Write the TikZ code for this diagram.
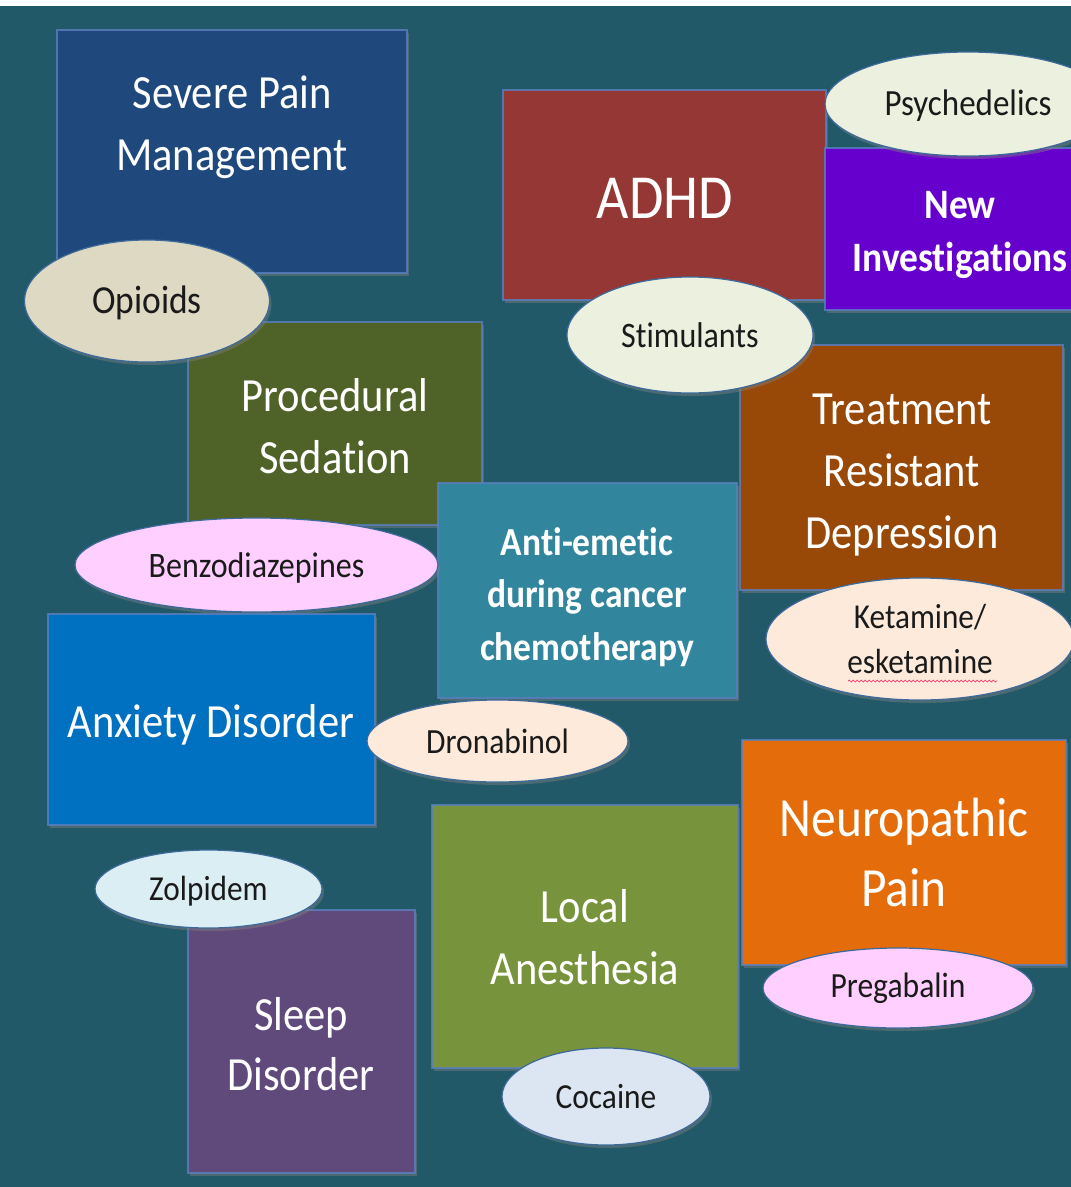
\documentclass[tikz,border=0pt]{standalone}
\usepackage{fontspec}
\setmainfont{Carlito}[Ligatures=NoCommon]
\usetikzlibrary{shapes.geometric,shadows,decorations.pathmorphing}
\definecolor{bgteal}{HTML}{215968}
\definecolor{cSevere}{HTML}{1F497D}
\definecolor{cADHD}{HTML}{953735}
\definecolor{cNew}{HTML}{6600CC}
\definecolor{cProc}{HTML}{4F6228}
\definecolor{cTreat}{HTML}{984807}
\definecolor{cAnti}{HTML}{31859C}
\definecolor{cAnx}{HTML}{0070C0}
\definecolor{cNeuro}{HTML}{E46C0A}
\definecolor{cLocal}{HTML}{77933C}
\definecolor{cSleep}{HTML}{604A7B}
\definecolor{eOpi}{HTML}{DDD9C3}
\definecolor{eGreen}{HTML}{EBF1DE}
\definecolor{ePink}{HTML}{FFCFFF}
\definecolor{ePeach}{HTML}{FDEADA}
\definecolor{eZol}{HTML}{DBEEF4}
\definecolor{eCoc}{HTML}{DCE6F2}
\definecolor{bordblue}{HTML}{5A7FC0}
\definecolor{ellbord}{HTML}{3D6A9A}
\definecolor{darktext}{HTML}{1A1A1A}
\newcommand\vtext[1]{\scalebox{1}[1.12]{\begin{tabular}[t]{@{}c@{}}#1\end{tabular}}}
\tikzset{
  box/.style={rectangle, inner sep=0pt, draw=bordblue, draw opacity=0.8, line width=1.2pt,
    drop shadow={shadow xshift=2pt, shadow yshift=-3pt, opacity=0.45}},
  oval/.style={ellipse, inner sep=0pt, draw=ellbord, line width=1.2pt,
    drop shadow={shadow xshift=2pt, shadow yshift=-3pt, opacity=0.45}},
  boxtext/.style={anchor=base, inner sep=0pt, text=white, font=\fontsize{42.5}{55.4}\selectfont},
  ovaltext/.style={anchor=base, inner sep=0pt, text=darktext, font=\fontsize{31.5}{40}\selectfont},
}
\begin{document}
\begin{tikzpicture}[x=1pt,y=-1pt]
\useasboundingbox (0,0) rectangle (1071,1187);
\fill[white] (0,0) rectangle (1071,1187);
\fill[bgteal] (0,6) rectangle (1071,1187);
\begin{scope}
\clip (0,6) rectangle (1071,1187);
% Severe Pain Management
\node[box, fill=cSevere, minimum width=350pt, minimum height=243pt] (severe) at (232,151.5) {};
\node[boxtext] (tsevere) at (232,108) {\vtext{Severe Pain\\Management}};
% ADHD
\node[box, fill=cADHD, minimum width=323pt, minimum height=210pt] (adhd) at (664.5,195) {};
\node[boxtext, font=\fontsize{56}{66}\selectfont] (tadhd) at (665,218) {\vtext{ADHD}};
% New Investigations
\node[box, fill=cNew, minimum width=270pt, minimum height=162pt] (newinv) at (960,229) {};
\node[boxtext, font=\fontsize{37.4}{48.2}\selectfont\bfseries] (tnewinv) at (960,218) {\vtext{New\\Investigations}};
% Psychedelics
\node[oval, fill=eGreen, minimum width=286pt, minimum height=104pt] (psy) at (968,104) {};
\node[ovaltext, font=\fontsize{33}{40}\selectfont] (tpsy) at (968,115) {\vtext{Psychedelics}};
% Procedural Sedation
\node[box, fill=cProc, minimum width=294pt, minimum height=203pt] (proc) at (335,423.5) {};
\node[boxtext] (tproc) at (335,411) {\vtext{Procedural\\Sedation}};
% Opioids
\node[oval, fill=eOpi, minimum width=245pt, minimum height=122pt] (opi) at (147,301) {};
\node[ovaltext, font=\fontsize{35.5}{40}\selectfont] (topi) at (147,313) {\vtext{Opioids}};
% Treatment Resistant Depression
\node[box, fill=cTreat, minimum width=323pt, minimum height=245pt] (treat) at (901.5,467.5) {};
\node[boxtext, font=\fontsize{42.5}{55.8}\selectfont] (ttreat) at (902,424) {\vtext{Treatment\\Resistant\\Depression}};
% Stimulants
\node[oval, fill=eGreen, minimum width=246pt, minimum height=116pt] (stim) at (690,335) {};
\node[ovaltext, font=\fontsize{32}{40}\selectfont] (tstim) at (690,347) {\vtext{Stimulants}};
% Anti-emetic
\node[box, fill=cAnti, minimum width=299pt, minimum height=215pt] (anti) at (587.5,590.5) {};
\node[boxtext, font=\fontsize{35.5}{47.3}\selectfont\bfseries] (tanti) at (587,555) {\vtext{Anti-emetic\\during cancer\\chemotherapy}};
% Benzodiazepines
\node[oval, fill=ePink, minimum width=363pt, minimum height=94pt] (benzo) at (256.5,565) {};
\node[ovaltext, font=\fontsize{32}{40}\selectfont] (tbenzo) at (256.5,577) {\vtext{Benzodiazepines}};
% Ketamine
\node[oval, fill=ePeach, minimum width=308pt, minimum height=122pt] (ket) at (920,639) {};
\node[ovaltext, font=\fontsize{31.2}{40.2}\selectfont] (tket) at (920,628) {\vtext{Ketamine/\\esketamine}};
\coordinate (wl) at (848,681);
\coordinate (wr) at (997,681);
\draw[red!75!magenta!80!white, line width=0.7pt, decorate, decoration={snake, amplitude=1pt, segment length=4pt}] (wl) -- (wr);
% Anxiety Disorder
\node[box, fill=cAnx, minimum width=327pt, minimum height=211pt] (anx) at (211.5,719.5) {};
\node[boxtext] (tanx) at (211,737) {\vtext{Anxiety Disorder}};
% Dronabinol
\node[oval, fill=ePeach, minimum width=261pt, minimum height=82pt] (dron) at (497.5,741) {};
\node[ovaltext, font=\fontsize{31.6}{40}\selectfont] (tdron) at (497.5,753) {\vtext{Dronabinol}};
% Neuropathic Pain
\node[box, fill=cNeuro, minimum width=324pt, minimum height=225pt] (neuro) at (904,852.5) {};
\node[boxtext, font=\fontsize{49.4}{62.5}\selectfont] (tneuro) at (904,836) {\vtext{Neuropathic\\Pain}};
% Pregabalin
\node[oval, fill=ePink, minimum width=270pt, minimum height=80pt] (preg) at (898,988) {};
\node[ovaltext, font=\fontsize{31.6}{40}\selectfont] (tpreg) at (898,997) {\vtext{Pregabalin}};
% Local Anesthesia
\node[box, fill=cLocal, minimum width=306pt, minimum height=263pt] (local) at (585,936.5) {};
\node[boxtext] (tlocal) at (585,922) {\vtext{Local\\Anesthesia}};
% Cocaine
\node[oval, fill=eCoc, minimum width=208pt, minimum height=97pt] (coc) at (606,1096.5) {};
\node[ovaltext, font=\fontsize{31.4}{40}\selectfont] (tcoc) at (606,1108) {\vtext{Cocaine}};
% Sleep Disorder
\node[box, fill=cSleep, minimum width=227pt, minimum height=263pt] (sleep) at (301.5,1041.5) {};
\node[boxtext, font=\fontsize{42.5}{53.6}\selectfont] (tsleep) at (301,1030) {\vtext{Sleep\\Disorder}};
% Zolpidem
\node[oval, fill=eZol, minimum width=227pt, minimum height=78pt] (zol) at (208.5,889) {};
\node[ovaltext, font=\fontsize{31.3}{40}\selectfont] (tzol) at (208.5,900) {\vtext{Zolpidem}};
\end{scope}
\end{tikzpicture}
\end{document}
